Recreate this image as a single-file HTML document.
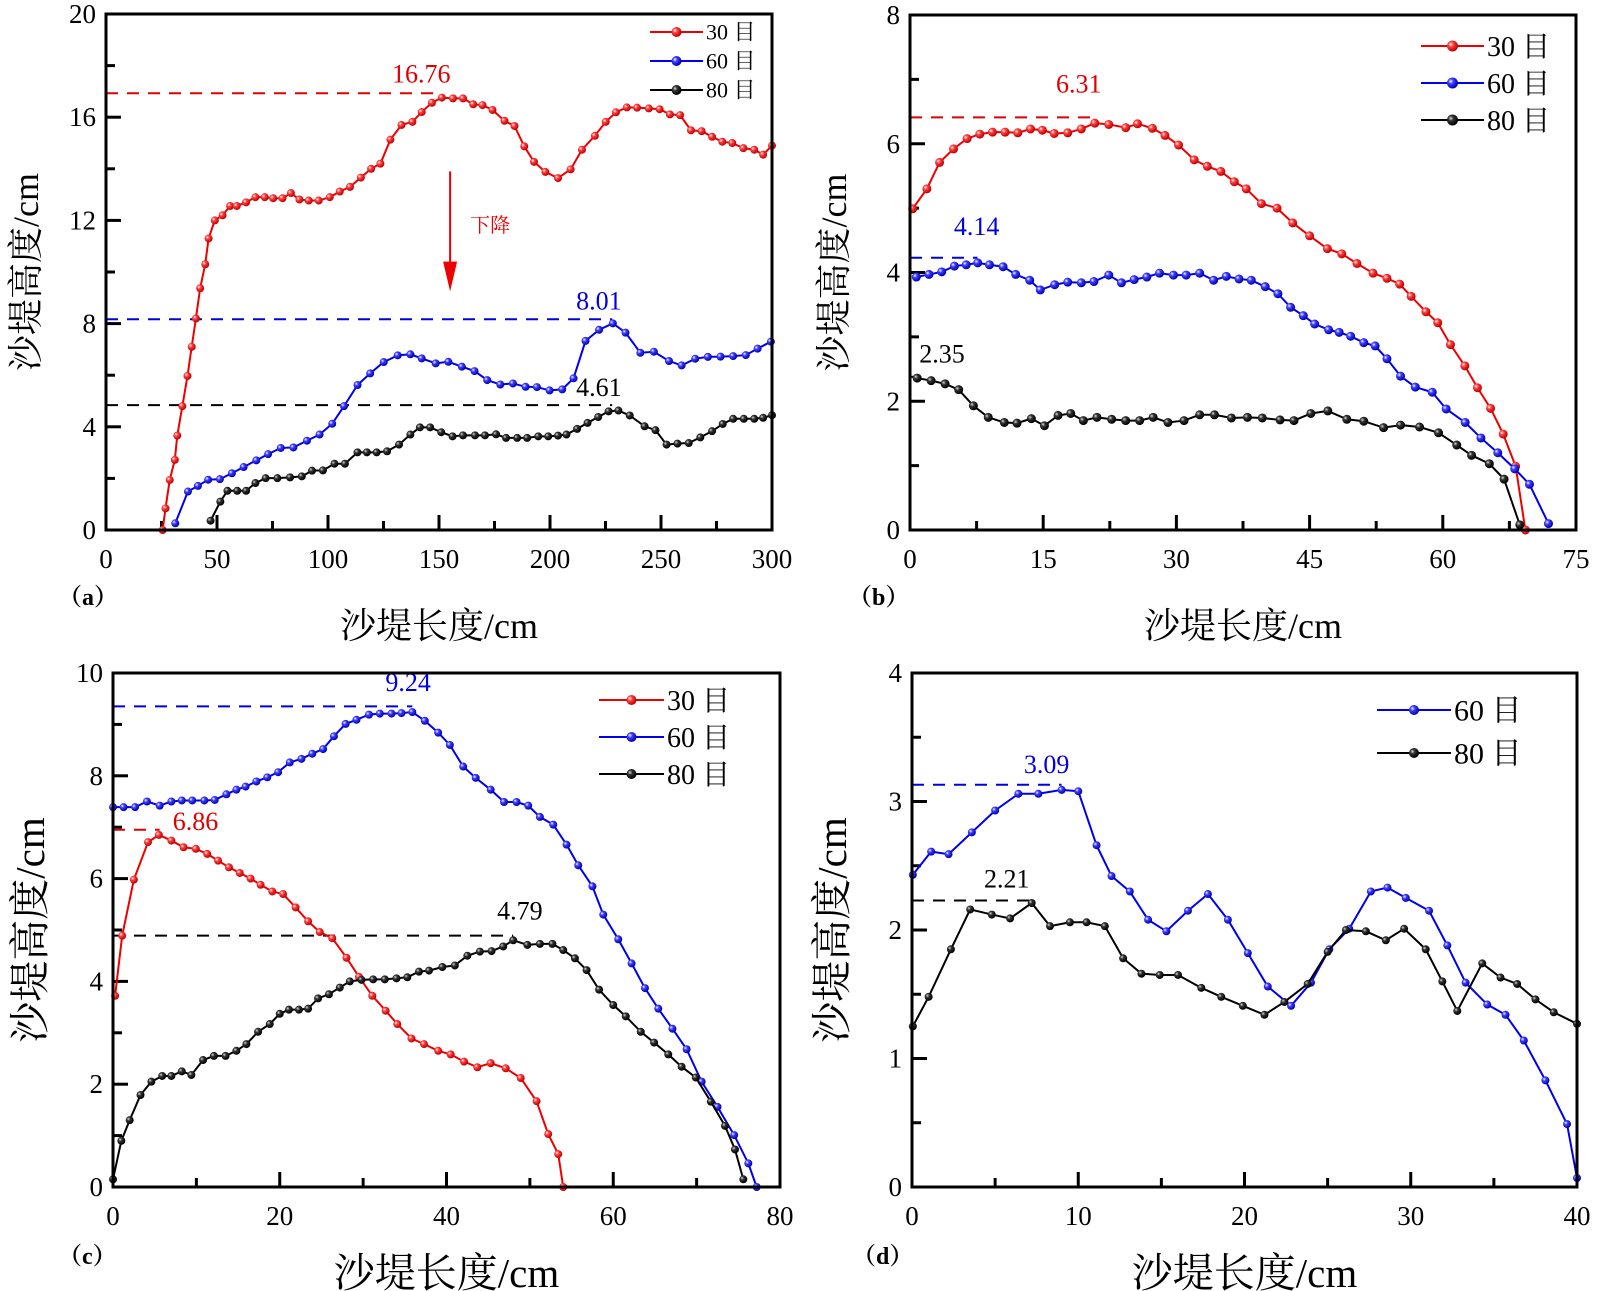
<!DOCTYPE html>
<html><head><meta charset="utf-8">
<style>
html,body{margin:0;padding:0;background:#fff;}
svg{display:block;}
text{font-family:"Liberation Serif","Noto Serif CJK SC","Noto Sans CJK SC",serif;}
</style></head>
<body>
<svg id="chart" width="1598" height="1291" viewBox="0 0 1598 1291" xmlns="http://www.w3.org/2000/svg">
<defs>
<radialGradient id="gR" cx="35%" cy="35%" r="65%"><stop offset="0" stop-color="#fff"/><stop offset="0.35" stop-color="#ff4040"/><stop offset="1" stop-color="#c00000"/></radialGradient>
<radialGradient id="gB" cx="35%" cy="35%" r="65%"><stop offset="0" stop-color="#fff"/><stop offset="0.35" stop-color="#4040ff"/><stop offset="1" stop-color="#0000b0"/></radialGradient>
<radialGradient id="gK" cx="35%" cy="35%" r="65%"><stop offset="0" stop-color="#ddd"/><stop offset="0.35" stop-color="#333"/><stop offset="1" stop-color="#000"/></radialGradient>
</defs>
</svg>
<script>
// ---- Panel (a) data ----
const a30 = [[25.5,0],[26.8,0.84],[28.7,1.94],[31,2.72],[32.1,3.66],[34.4,4.8],[36.7,5.97],[38.6,7.1],[40.5,8.2],[42.4,9.37],[44.7,10.3],[46.2,11.3],[49,12.0],[52.5,12.2],[55.9,12.56],[58.9,12.56],[63.1,12.7],[67.3,12.9],[71.5,12.9],[75.3,12.86],[79.5,12.86],[83.3,13.06],[87.1,12.81],[91.3,12.77],[95.8,12.77],[100.8,12.9],[105.3,13.12],[109.9,13.3],[114.8,13.66],[119.4,14.0],[123.6,14.2],[128.1,15.13],[133.1,15.7],[138,15.82],[142.2,16.2],[146.8,16.56],[151.3,16.76],[156.3,16.73],[160.8,16.73],[165.4,16.5],[169.6,16.47],[174.1,16.28],[179.5,15.86],[184,15.66],[188.4,14.87],[192.8,14.27],[197.9,13.88],[203.6,13.64],[209.3,13.98],[214.4,14.74],[220.2,15.28],[225.1,15.82],[229.7,16.19],[234.6,16.38],[239.2,16.37],[244.5,16.34],[249.4,16.31],[254,16.11],[258.6,16.08],[263.5,15.49],[268.3,15.46],[273,15.24],[277.6,15.05],[282.1,15.0],[287.1,14.8],[292,14.74],[296,14.55],[300,14.9]];
const a60 = [[31.2,0.26],[36.9,1.49],[41.4,1.71],[46,1.95],[51.3,1.97],[56.7,2.2],[62,2.44],[67.7,2.7],[73,2.94],[78.7,3.18],[84.4,3.2],[90.5,3.46],[96.2,3.7],[101.9,4.12],[107.2,4.8],[113.3,5.62],[119,6.07],[125.1,6.51],[131.4,6.77],[137.1,6.81],[142.2,6.65],[148.5,6.46],[154.2,6.52],[160.3,6.33],[166,6.16],[171.7,5.81],[177.6,5.64],[183.3,5.68],[189,5.55],[194.1,5.54],[199.8,5.41],[205.5,5.45],[210.6,5.88],[216,7.33],[222.1,7.76],[228.3,8.01],[234,7.65],[240.7,6.87],[246.8,6.91],[253.6,6.55],[259.3,6.38],[265.4,6.64],[271.1,6.71],[276.8,6.72],[282.5,6.74],[288.2,6.78],[293.5,7.03],[299.5,7.3]];
const a80 = [[47.1,0.36],[51.5,1.1],[54.7,1.52],[59.1,1.52],[63.1,1.52],[67.3,1.82],[71.9,2.01],[77.2,2.01],[82.9,2.04],[88.2,2.08],[92.8,2.3],[97.7,2.31],[102.9,2.57],[107.6,2.57],[113.3,3.01],[117.5,3.01],[121.9,3.01],[126.6,3.05],[132,3.31],[137.1,3.7],[141.4,3.98],[146,3.98],[151,3.79],[156.1,3.63],[160.8,3.67],[166.2,3.67],[170.7,3.67],[175.7,3.71],[180.2,3.57],[185.2,3.57],[189.7,3.57],[194.7,3.63],[199.2,3.63],[203.6,3.66],[207.4,3.7],[212.2,3.92],[216.9,4.15],[221.7,4.38],[226.4,4.6],[230.8,4.63],[235.9,4.44],[242.6,4.02],[247.5,3.87],[252.5,3.31],[257.4,3.35],[262.5,3.37],[267.7,3.59],[273,3.83],[277.8,4.11],[282.5,4.31],[287.3,4.31],[292,4.31],[296,4.35],[300,4.45]];
const aPeaks = [[16.93,148,'16.76',142,17.35,'#e00000'],[8.17,228,'8.01',222,8.55,'#0000e0'],[4.84,228,'4.61',222,5.2,'#000']];
// ---- Panel (b) data ----
const b30 = [[0.3,4.99],[1.9,5.3],[3.33,5.71],[4.9,5.92],[6.43,6.08],[7.86,6.15],[9.29,6.18],[10.71,6.18],[12.14,6.17],[13.57,6.23],[14.9,6.21],[16.24,6.16],[17.76,6.17],[19.29,6.23],[20.81,6.32],[22.38,6.3],[24.29,6.25],[25.62,6.31],[27.29,6.24],[28.71,6.13],[30.24,5.98],[32,5.75],[33.48,5.65],[35,5.57],[36.52,5.41],[37.86,5.3],[39.57,5.07],[41.33,5.0],[43.1,4.77],[45,4.57],[47,4.37],[48.62,4.29],[50.33,4.14],[52.14,3.99],[53.71,3.91],[55.14,3.82],[56.43,3.63],[58.1,3.39],[59.43,3.22],[60.86,2.88],[62.48,2.55],[63.9,2.21],[65.38,1.89],[66.8,1.49],[68.2,0.99],[69.3,0]];
const b60 = [[0.71,3.93],[2.14,3.97],[3.57,4.01],[5,4.1],[6.33,4.12],[7.62,4.15],[8.95,4.12],[10.48,4.09],[11.9,3.97],[13.48,3.88],[14.67,3.73],[16.29,3.81],[17.76,3.85],[19.29,3.84],[20.71,3.86],[22.38,3.96],[23.81,3.84],[25.24,3.89],[26.67,3.93],[28.1,3.99],[29.67,3.96],[31.1,3.96],[32.62,3.99],[34.19,3.88],[35.62,3.94],[37.05,3.9],[38.43,3.88],[40,3.78],[41.43,3.67],[42.86,3.46],[44.29,3.33],[45.57,3.2],[47.14,3.11],[48.33,3.07],[49.62,3.01],[51.1,2.91],[52.38,2.86],[53.71,2.66],[55.24,2.39],[56.9,2.22],[58.81,2.14],[60.38,1.88],[62.52,1.67],[64.29,1.43],[66.19,1.2],[68.1,0.95],[69.76,0.71],[71.9,0.1]];
const b80 = [[0.81,2.36],[2.38,2.32],[3.95,2.27],[5.48,2.18],[7.14,1.93],[8.81,1.75],[10.62,1.67],[12.05,1.66],[13.67,1.73],[15.14,1.62],[16.67,1.78],[18.1,1.81],[19.52,1.7],[21.05,1.75],[22.71,1.72],[24.29,1.7],[25.86,1.7],[27.38,1.75],[29.05,1.67],[30.86,1.7],[32.62,1.79],[34.29,1.79],[36.19,1.74],[38,1.75],[39.67,1.74],[41.67,1.71],[43.24,1.7],[45.14,1.81],[47.05,1.85],[49.19,1.72],[51.1,1.69],[53.33,1.59],[55.24,1.63],[57.38,1.6],[59.52,1.51],[61.57,1.32],[63.24,1.16],[65.24,1.03],[66.9,0.79],[68.67,0.08]];
const bPeaks = [[6.41,20.7,'6.31',19,6.8,'#e00000'],[4.23,7.6,'4.14',7.5,4.58,'#0000e0'],[2.38,0.6,'2.35',3.6,2.6,'#000']];
// ---- Panel (c) data ----
const c30 = [[0.25,3.72],[1.1,4.89],[2.5,5.98],[4.2,6.71],[5.5,6.85],[7,6.74],[8.46,6.61],[9.93,6.58],[11.3,6.48],[12.6,6.35],[13.9,6.22],[15.2,6.11],[16.5,6.0],[17.7,5.88],[19.1,5.75],[20.4,5.7],[21.9,5.44],[23.4,5.17],[24.8,4.96],[26.3,4.84],[28,4.46],[29.5,4.09],[31.1,3.72],[32.7,3.43],[34.1,3.17],[35.8,2.89],[37.3,2.78],[39,2.65],[40.5,2.58],[42.1,2.44],[43.7,2.33],[45.3,2.41],[47.1,2.31],[48.9,2.12],[50.8,1.67],[52.2,1.03],[53.4,0.64],[54,0]];
const c60 = [[0,7.39],[1.27,7.39],[2.65,7.39],[4.07,7.5],[5.6,7.42],[7,7.5],[8.25,7.52],[9.5,7.52],[10.95,7.52],[12.2,7.53],[13.6,7.64],[14.8,7.73],[15.9,7.79],[17.2,7.89],[18.5,7.97],[19.8,8.07],[21.2,8.26],[22.6,8.33],[23.9,8.43],[25.2,8.52],[26.5,8.77],[27.9,9.01],[29.2,9.09],[30.7,9.19],[32,9.21],[33.4,9.21],[34.6,9.22],[35.9,9.24],[37.4,9.07],[39,8.84],[40.4,8.6],[42,8.18],[43.5,7.96],[45.3,7.73],[46.9,7.49],[48.4,7.49],[49.8,7.42],[51.2,7.2],[52.8,7.05],[54.4,6.66],[55.8,6.26],[57.5,5.85],[58.8,5.3],[60.6,4.82],[62.2,4.35],[63.8,3.87],[65.4,3.47],[67.1,3.08],[68.8,2.68],[70.6,2.05],[72.5,1.56],[74.5,1.01],[76.2,0.46],[77.2,0]];
const c80 = [[0,0.15],[1,0.9],[2,1.3],[3.3,1.79],[4.6,2.05],[5.9,2.16],[7,2.16],[8.25,2.25],[9.4,2.18],[10.8,2.47],[12.1,2.55],[13.5,2.55],[14.8,2.65],[16,2.78],[17.4,3.02],[18.8,3.17],[20,3.37],[21.1,3.45],[22.3,3.45],[23.4,3.47],[24.6,3.67],[25.9,3.75],[27.2,3.88],[28.4,4.0],[29.8,4.03],[31.2,4.04],[32.6,4.04],[34,4.06],[35.3,4.08],[36.7,4.19],[37.9,4.21],[39.5,4.28],[41,4.31],[42.5,4.5],[44,4.58],[45.4,4.59],[46.8,4.68],[48,4.8],[49.7,4.71],[51.2,4.73],[52.7,4.73],[54,4.61],[55.4,4.45],[56.8,4.22],[58.3,3.84],[60,3.54],[61.5,3.32],[63.3,3.02],[64.9,2.81],[66.6,2.58],[68.2,2.34],[69.9,2.13],[71.7,1.66],[73.4,1.19],[74.6,0.73],[75.6,0.15]];
const cPeaks = [[9.35,35.9,'9.24',35.4,9.65,'#0000e0'],[6.95,5.6,'6.86',9.9,6.95,'#e00000'],[4.89,48,'4.79',48.8,5.2,'#000']];
// ---- Panel (d) data ----
const d60 = [[0.05,2.43],[1.15,2.61],[2.2,2.59],[3.6,2.76],[5,2.93],[6.4,3.06],[7.6,3.06],[9,3.09],[10,3.08],[11.1,2.66],[12,2.42],[13.1,2.3],[14.2,2.08],[15.3,1.99],[16.6,2.15],[17.8,2.28],[19,2.08],[20.2,1.82],[21.4,1.56],[22.8,1.41],[24,1.59],[25.1,1.85],[26.3,2.01],[27.6,2.3],[28.6,2.33],[29.7,2.25],[31.1,2.15],[32.2,1.88],[33.3,1.59],[34.6,1.42],[35.7,1.34],[36.8,1.14],[38.1,0.83],[39.4,0.49],[40,0.07]];
const d80 = [[0.05,1.25],[1,1.48],[2.34,1.85],[3.5,2.16],[4.8,2.12],[5.9,2.09],[7.2,2.21],[8.3,2.03],[9.5,2.06],[10.5,2.06],[11.6,2.03],[12.7,1.78],[13.8,1.66],[14.9,1.65],[16,1.65],[17.4,1.55],[18.6,1.48],[19.9,1.41],[21.2,1.34],[22.4,1.44],[23.8,1.58],[25,1.83],[26.1,2.0],[27.3,1.99],[28.5,1.92],[29.6,2.01],[30.9,1.85],[31.9,1.6],[32.8,1.37],[34.3,1.74],[35.4,1.63],[36.4,1.58],[37.5,1.46],[38.6,1.36],[40,1.27]];
const dPeaks = [[3.13,9,'3.09',8.1,3.22,'#0000e0'],[2.23,7.2,'2.21',5.7,2.33,'#000']];
// tick label arrays
const aXTicks = [0,50,100,150,200,250,300], aYTicks = [0,4,8,12,16,20];
const bXTicks = [0,15,30,45,60,75], bYTicks = [0,2,4,6,8];
const cXTicks = [0,20,40,60,80], cYTicks = [0,2,4,6,8,10];
const dXTicks = [0,10,20,30,40], dYTicks = [0,1,2,3,4];

const NS='http://www.w3.org/2000/svg';
const svg=document.getElementById('chart');
function mk(tag,attrs,parent,txt){const e=document.createElementNS(NS,tag);for(const k in attrs)e.setAttribute(k,attrs[k]);if(txt!==undefined)e.textContent=txt;(parent||svg).appendChild(e);return e;}

function panel(P){
  const g=mk('g',{});
  
  
  const sx=v=>P.x0+(v-P.xmin)/(P.xmax-P.xmin)*(P.x1-P.x0);
  const sy=v=>P.y0-(v-P.ymin)/(P.ymax-P.ymin)*(P.y0-P.y1);
  const xStep=P.xt[1]-P.xt[0], yStep=P.yt[1]-P.yt[0];
  for(let v=P.xmin;v<=P.xmax+1e-9;v+=xStep/2){
    const major=Math.abs(v/xStep-Math.round(v/xStep))<1e-6;
    const t=mk('line',{x1:sx(v),x2:sx(v),y1:P.y0,y2:P.y0-(major?15:9),stroke:'#000','stroke-width':3},g);
    
    
  }
  for(let v=P.ymin;v<=P.ymax+1e-9;v+=yStep/2){
    const major=Math.abs(v/yStep-Math.round(v/yStep))<1e-6;
    const t=mk('line',{x1:P.x0,x2:P.x0+(major?15:9),y1:sy(v),y2:sy(v),stroke:'#000','stroke-width':3},g);
    
    
  }
  P.xt.forEach(v=>{const t=mk('text',{x:sx(v),y:P.y0+38,'font-size':27,'text-anchor':'middle'},g,String(v));
    
    });
  P.yt.forEach(v=>{const t=mk('text',{x:P.x0-10,y:sy(v)+9,'font-size':27,'text-anchor':'end'},g,String(v));
    
    });
  P.peaks.forEach(p=>{
    const l=mk('line',{x1:P.x0,x2:sx(p[1]),y1:sy(p[0]),y2:sy(p[0]),stroke:p[5],'stroke-width':2,'stroke-dasharray':'12,9'},g);
    
    
    const t=mk('text',{x:sx(p[3]),y:sy(p[4]),'font-size':P.lfs,'text-anchor':'middle',fill:p[5]},g,p[2]);
    
    
  });
  P.series.forEach(s=>{
    const pts=s.data.map(d=>sx(d[0])+','+sy(d[1])).join(' ');
    const pl=mk('polyline',{points:pts,fill:'none',stroke:s.color,'stroke-width':2},g);
    
    
    s.data.forEach(d=>{
      const c=mk('circle',{cx:sx(d[0]),cy:sy(d[1]),r:P.mr,fill:'url(#'+s.grad+')'},g);
      
      
    });
  });
  const fr=mk('rect',{x:P.x0,y:P.y1,width:P.x1-P.x0,height:P.y0-P.y1,fill:'none',stroke:'#000','stroke-width':3},g);
  
  
  P.series.forEach((s,i)=>{
    const y=P.leg.y+i*P.leg.dy;
    const lg=mk('g',{},g);
    
    
    mk('line',{x1:P.leg.x,x2:P.leg.x2,y1:y,y2:y,stroke:s.color,'stroke-width':2},lg);
    mk('circle',{cx:(P.leg.x+P.leg.x2)/2,cy:y,r:P.mr+1,fill:'url(#'+s.grad+')'},lg);
    mk('text',{x:P.leg.x2+3,y:y+P.leg.fs*0.35,'font-size':P.leg.fs},lg,s.name+' 目');
  });
  const cxm=(P.x0+P.x1)/2, cym=(P.y0+P.y1)/2;
  const xt=mk('text',{x:cxm,y:P.xty,'font-size':P.tfs,'text-anchor':'middle'},g,'沙堤长度/cm');
  
  
  const yt=mk('text',{x:P.ytx,y:cym,'font-size':P.tfs,'text-anchor':'middle',transform:'rotate(-90 '+P.ytx+' '+cym+')'},g,'沙堤高度/cm');
  
  
  const pl=mk('text',{x:P.plx,y:P.ply,'font-size':24,'font-weight':'bold'},g,'（'+P.id+'）');
  
  
  return {g,sx,sy};
}

const R='#ee0000',B='#0000ee',K='#000';
const pa=panel({id:'a',x0:106,x1:772,y0:530,y1:14,xmin:0,xmax:300,ymin:0,ymax:20,xt:aXTicks,yt:aYTicks,mr:4,lfs:26,tfs:36,
  peaks:aPeaks,series:[{name:'30',data:a30,color:R,grad:'gR'},{name:'60',data:a60,color:B,grad:'gB'},{name:'80',data:a80,color:K,grad:'gK'}],
  leg:{x:650,x2:703,y:32,dy:29,fs:22},xty:638,ytx:38,plx:58,ply:605});
const pb=panel({id:'b',x0:910,x1:1576,y0:530,y1:15,xmin:0,xmax:75,ymin:0,ymax:8,xt:bXTicks,yt:bYTicks,mr:4.5,lfs:26,tfs:36,
  peaks:bPeaks,series:[{name:'30',data:b30,color:R,grad:'gR'},{name:'60',data:b60,color:B,grad:'gB'},{name:'80',data:b80,color:K,grad:'gK'}],
  leg:{x:1421,x2:1484,y:46,dy:37,fs:28},xty:638,ytx:846,plx:848,ply:605});
const pc=panel({id:'c',x0:113,x1:780,y0:1187,y1:673,xmin:0,xmax:80,ymin:0,ymax:10,xt:cXTicks,yt:cYTicks,mr:4,lfs:26,tfs:41,
  peaks:cPeaks,series:[{name:'30',data:c30,color:R,grad:'gR'},{name:'60',data:c60,color:B,grad:'gB'},{name:'80',data:c80,color:K,grad:'gK'}],
  leg:{x:599,x2:664,y:700,dy:37,fs:28},xty:1287,ytx:44,plx:58,ply:1264});
const pd=panel({id:'d',x0:912,x1:1577,y0:1187,y1:673,xmin:0,xmax:40,ymin:0,ymax:4,xt:dXTicks,yt:dYTicks,mr:4,lfs:26,tfs:41,
  peaks:dPeaks,series:[{name:'60',data:d60,color:B,grad:'gB'},{name:'80',data:d80,color:K,grad:'gK'}],
  leg:{x:1377,x2:1451,y:710,dy:43,fs:30},xty:1287,ytx:846,plx:852,ply:1264});

const ax=pa.sx(155);
const arr=mk('g',{});


mk('line',{x1:ax,x2:ax,y1:pa.sy(13.9),y2:pa.sy(10.2),stroke:'#ee0000','stroke-width':2},arr);
mk('polygon',{points:(ax-7)+','+pa.sy(10.4)+' '+(ax+7)+','+pa.sy(10.4)+' '+ax+','+pa.sy(9.25),fill:'#ee0000'},arr);
const dt=mk('text',{x:pa.sx(164),y:pa.sy(11.55),'font-size':20,fill:'#ee0000'},undefined,'下降');


</script>
</body></html>
